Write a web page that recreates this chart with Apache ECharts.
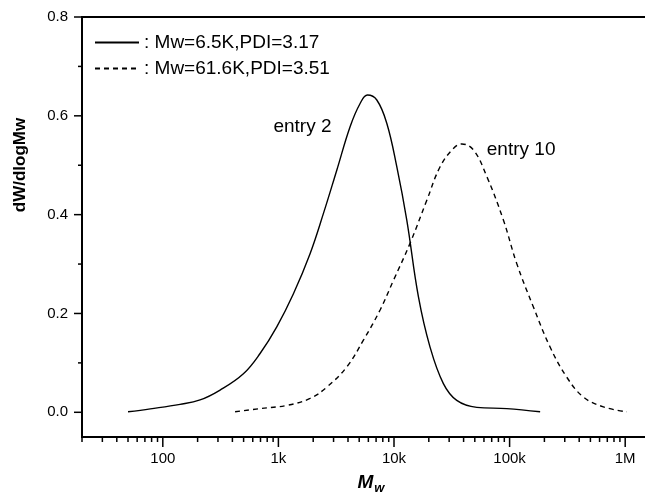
<!DOCTYPE html>
<html>
<head>
<meta charset="utf-8">
<script src="https://cdn.jsdelivr.net/npm/echarts@6.0.0/dist/echarts.min.js"></script>
<style>
  html, body { margin: 0; padding: 0; background: #fff; }
  #chart { width: 645px; height: 493px; }
</style>
</head>
<body>
<div id="chart"></div>
<script>
// entry 2 (solid)
var solidMw = [50, 78, 141, 210, 313, 498, 694, 968, 1349, 1879, 2449, 3199, 4170, 5090, 5890, 7100, 8660, 10570, 12900, 16260, 20500, 26740, 34900, 52000, 94600, 183700];
var solidW = [0.001, 0.007, 0.016, 0.025, 0.045, 0.078, 0.119, 0.173, 0.240, 0.321, 0.402, 0.490, 0.578, 0.625, 0.642, 0.632, 0.585, 0.497, 0.389, 0.234, 0.132, 0.058, 0.024, 0.010, 0.0075, 0.001];
// entry 10 (dashed)
var dashMw = [422, 695, 1183, 1879, 2622, 3908, 5436, 7580, 9890, 13770, 19220, 25060, 32660, 38620, 48660, 63550, 88400, 115300, 160700, 224000, 312400, 434600, 647000, 1033000];
var dashW = [0.001, 0.0075, 0.014, 0.028, 0.051, 0.092, 0.146, 0.207, 0.267, 0.342, 0.429, 0.497, 0.534, 0.543, 0.531, 0.477, 0.389, 0.301, 0.213, 0.132, 0.071, 0.031, 0.011, 0.001];

var seriesNames = ['entry 2', 'entry 10'];
var legendTexts = [': Mw=6.5K,PDI=3.17', ': Mw=61.6K,PDI=3.51'];

// annotations
var noteText = ['entry 2', 'entry 10'];
var noteMw = [906, 63500];
var noteW = [0.578, 0.531];

// axes
var xMin = 20, xMax = 2000000;
var yMin = -0.05, yMax = 0.8;
var xMajorTicks = [100, 1000, 10000, 100000, 1000000];
var xMajorLabels = ['100', '1k', '10k', '100k', '1M'];
var xMinorSteps = [2, 3, 4, 5, 6, 7, 8, 9];
var xDecades = [10, 100, 1000, 10000, 100000, 1000000];
var yMajorTicks = [0, 0.2, 0.4, 0.6, 0.8];
var yMajorLabels = ['0.0', '0.2', '0.4', '0.6', '0.8'];
var yMinorTicks = [0.1, 0.3, 0.5, 0.7];

var FONT = '"Liberation Sans", Arial, Helvetica, sans-serif';

var xMinorTicks = [];
xDecades.forEach(function (d) {
  xMinorSteps.forEach(function (s) {
    var v = d * s;
    if (v >= xMin && v < xMax) xMinorTicks.push(v);
  });
});

function zip(a, b) {
  return a.map(function (v, i) { return [v, b[i]]; });
}

var myChart = echarts.init(document.getElementById('chart'));

function xTickItem(labels, len) {
  return function (params, api) {
    var p = api.coord([api.value(0), yMin]);
    var children = [{
      type: 'line',
      shape: { x1: p[0], y1: p[1], x2: p[0], y2: p[1] + len },
      style: { stroke: '#000', lineWidth: 1.5 }
    }];
    if (labels) {
      children.push({
        type: 'text',
        x: p[0], y: p[1] + 22,
        style: {
          text: labels[params.dataIndex], fill: '#000',
          font: '15px ' + FONT, align: 'center', verticalAlign: 'middle'
        }
      });
    }
    return { type: 'group', children: children };
  };
}

function yTickItem(labels, len) {
  return function (params, api) {
    var p = api.coord([xMin, api.value(1)]);
    var children = [{
      type: 'line',
      shape: { x1: p[0] - len, y1: p[1], x2: p[0], y2: p[1] },
      style: { stroke: '#000', lineWidth: 1.5 }
    }];
    if (labels) {
      children.push({
        type: 'text',
        x: p[0] - 14, y: p[1],
        style: {
          text: labels[params.dataIndex], fill: '#000',
          font: '15px ' + FONT, align: 'right', verticalAlign: 'middle'
        }
      });
    }
    return { type: 'group', children: children };
  };
}

myChart.setOption({
  animation: false,
  backgroundColor: '#fff',
  grid: {
    left: 82,
    right: -15,
    top: 17,
    bottom: 56,
    outerBoundsMode: 'none',
    containLabel: false,
    show: true,
    borderColor: '#000',
    borderWidth: 2,
    backgroundColor: 'transparent'
  },
  legend: {
    orient: 'vertical',
    left: 94,
    top: 33,
    padding: 0,
    itemWidth: 44,
    itemHeight: 14,
    itemGap: 7,
    data: seriesNames,
    itemStyle: { opacity: 0 },
    formatter: function (name) {
      return legendTexts[seriesNames.indexOf(name)];
    },
    textStyle: { color: '#000', fontSize: 19, fontFamily: FONT, lineHeight: 19 }
  },
  graphic: [{
    type: 'text',
    x: 20,
    y: 165,
    rotation: Math.PI / 2,
    style: {
      text: 'dW/dlogMw',
      fill: '#000',
      font: 'bold 17px ' + FONT,
      align: 'center',
      verticalAlign: 'middle'
    }
  }],
  xAxis: {
    type: 'log',
    logBase: 10,
    min: xMin,
    max: xMax,
    name: '{m|M}{w|w}',
    nameLocation: 'middle',
    nameGap: 33,
    nameTextStyle: {
      rich: {
        m: { fontSize: 19, fontWeight: 'bold', fontStyle: 'italic', fontFamily: FONT, color: '#000' },
        w: { fontSize: 13, fontWeight: 'bold', fontStyle: 'italic', fontFamily: FONT, color: '#000', padding: [12, 0, 0, 1] }
      }
    },
    axisLine: { show: true, onZero: false, lineStyle: { color: '#000', width: 2 } },
    axisTick: { show: false },
    axisLabel: { show: false },
    splitLine: { show: false },
    minorTick: { show: false }
  },
  yAxis: {
    type: 'value',
    min: yMin,
    max: yMax,
    axisLine: { show: true, onZero: false, lineStyle: { color: '#000', width: 2 } },
    axisTick: { show: false },
    axisLabel: { show: false },
    splitLine: { show: false }
  },
  series: [
    {
      name: seriesNames[0],
      type: 'line',
      data: zip(solidMw, solidW),
      smooth: 0.4,
      symbol: 'none',
      lineStyle: { color: '#000', width: 1.4, type: 'solid' },
      itemStyle: { color: '#000' },
      z: 3
    },
    {
      name: seriesNames[1],
      type: 'line',
      data: zip(dashMw, dashW),
      smooth: 0.4,
      symbol: 'none',
      lineStyle: { color: '#000', width: 1.4, type: [5, 4] },
      itemStyle: { color: '#000' },
      z: 3
    },
    {
      type: 'scatter',
      data: noteMw.map(function (v, i) { return [v, noteW[i]]; }),
      symbolSize: 0,
      silent: true,
      itemStyle: { color: '#000' },
      label: {
        show: true,
        position: 'inside',
        align: 'left',
        verticalAlign: 'middle',
        color: '#000',
        opacity: 1,
        fontSize: 19,
        fontFamily: FONT,
        formatter: function (p) { return noteText[p.dataIndex]; }
      }
    },
    {
      type: 'custom',
      clip: false,
      silent: true,
      data: xMajorTicks.map(function (v) { return [v, yMin]; }),
      renderItem: xTickItem(xMajorLabels, 10),
      z: 5
    },
    {
      type: 'custom',
      clip: false,
      silent: true,
      data: xMinorTicks.map(function (v) { return [v, yMin]; }),
      renderItem: xTickItem(null, 5),
      z: 5
    },
    {
      type: 'custom',
      clip: false,
      silent: true,
      data: yMajorTicks.map(function (v) { return [xMin, v]; }),
      renderItem: yTickItem(yMajorLabels, 8),
      z: 5
    },
    {
      type: 'custom',
      clip: false,
      silent: true,
      data: yMinorTicks.map(function (v) { return [xMin, v]; }),
      renderItem: yTickItem(null, 4),
      z: 5
    }
  ]
});
</script>
</body>
</html>
